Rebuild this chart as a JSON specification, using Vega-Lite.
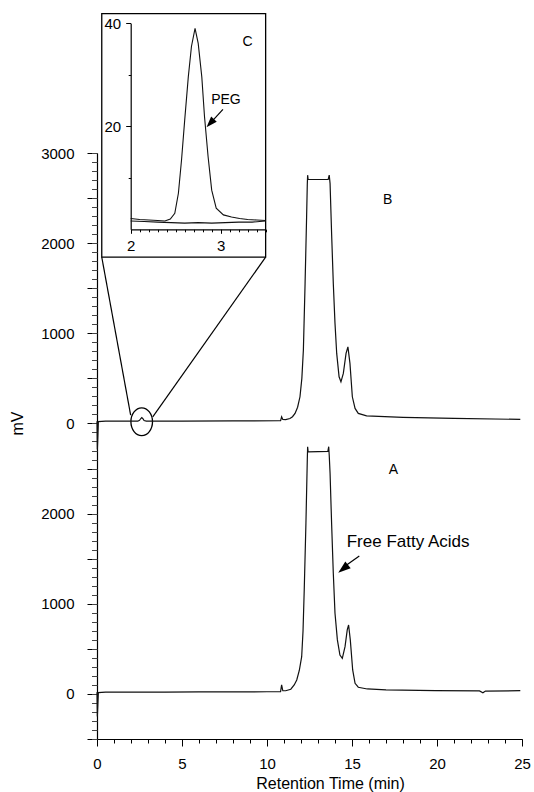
{
  "$schema": "https://vega.github.io/schema/vega-lite/v6.json",
  "width": 425,
  "height": 586,
  "autosize": "none",
  "padding": {"left": 97, "top": 153, "right": 12, "bottom": 53},
  "background": "white",
  "config": {
    "view": {"stroke": null},
    "font": "Liberation Sans",
    "axis": {
      "grid": false,
      "domainColor": "#000",
      "tickColor": "#000",
      "labelColor": "#000",
      "titleColor": "#000",
      "labelFont": "Liberation Sans",
      "titleFont": "Liberation Sans",
      "titleFontWeight": "normal",
      "labelFontSize": 15,
      "labelFlush": false,
      "labelOverlap": false,
      "domainWidth": 1.2,
      "tickWidth": 1
    }
  },
  "datasets": {
    "A": [
      {"t": 0, "mv": 20}, {"t": 0.02, "mv": -250}, {"t": 0.05, "mv": -120}, {"t": 0.08, "mv": 15},
      {"t": 0.5, "mv": 20}, {"t": 2, "mv": 20}, {"t": 4, "mv": 20}, {"t": 6, "mv": 22}, {"t": 8, "mv": 22},
      {"t": 10, "mv": 24}, {"t": 10.8, "mv": 25}, {"t": 10.86, "mv": 100}, {"t": 10.93, "mv": 35},
      {"t": 11.1, "mv": 35}, {"t": 11.4, "mv": 52}, {"t": 11.6, "mv": 100}, {"t": 11.75, "mv": 155},
      {"t": 11.9, "mv": 260}, {"t": 12.04, "mv": 413}, {"t": 12.12, "mv": 700}, {"t": 12.19, "mv": 1153},
      {"t": 12.29, "mv": 1892}, {"t": 12.37, "mv": 2594}, {"t": 12.39, "mv": 2742}, {"t": 12.42, "mv": 2686},
      {"t": 13.58, "mv": 2690}, {"t": 13.63, "mv": 2742}, {"t": 13.66, "mv": 2650}, {"t": 13.71, "mv": 2447},
      {"t": 13.8, "mv": 1892}, {"t": 13.9, "mv": 1338}, {"t": 14.0, "mv": 895}, {"t": 14.14, "mv": 599},
      {"t": 14.29, "mv": 432}, {"t": 14.43, "mv": 395}, {"t": 14.59, "mv": 524}, {"t": 14.72, "mv": 710},
      {"t": 14.8, "mv": 765}, {"t": 14.9, "mv": 599}, {"t": 15.04, "mv": 266}, {"t": 15.18, "mv": 118},
      {"t": 15.37, "mv": 74}, {"t": 15.9, "mv": 55}, {"t": 17, "mv": 45}, {"t": 19.9, "mv": 37},
      {"t": 22.5, "mv": 33}, {"t": 22.7, "mv": 12}, {"t": 22.85, "mv": 32}, {"t": 24.9, "mv": 36}
    ],
    "B": [
      {"t": 0, "mv": 25}, {"t": 0.02, "mv": -290}, {"t": 0.05, "mv": -150}, {"t": 0.08, "mv": 20},
      {"t": 0.5, "mv": 25}, {"t": 2.4, "mv": 25}, {"t": 2.5, "mv": 35}, {"t": 2.58, "mv": 55},
      {"t": 2.63, "mv": 66}, {"t": 2.69, "mv": 55}, {"t": 2.77, "mv": 33}, {"t": 2.9, "mv": 26},
      {"t": 5, "mv": 27}, {"t": 8, "mv": 28}, {"t": 10.7, "mv": 30}, {"t": 10.8, "mv": 32},
      {"t": 10.86, "mv": 74}, {"t": 10.93, "mv": 45}, {"t": 11.1, "mv": 42}, {"t": 11.35, "mv": 55},
      {"t": 11.5, "mv": 75}, {"t": 11.65, "mv": 112}, {"t": 11.8, "mv": 180}, {"t": 11.94, "mv": 296},
      {"t": 12.05, "mv": 500}, {"t": 12.14, "mv": 814}, {"t": 12.24, "mv": 1553}, {"t": 12.33, "mv": 2292},
      {"t": 12.37, "mv": 2650}, {"t": 12.39, "mv": 2754}, {"t": 12.42, "mv": 2706}, {"t": 13.6, "mv": 2706},
      {"t": 13.66, "mv": 2754}, {"t": 13.69, "mv": 2700}, {"t": 13.71, "mv": 2662}, {"t": 13.8, "mv": 2108},
      {"t": 13.9, "mv": 1553}, {"t": 14.0, "mv": 1110}, {"t": 14.1, "mv": 777}, {"t": 14.24, "mv": 518},
      {"t": 14.35, "mv": 462}, {"t": 14.49, "mv": 555}, {"t": 14.65, "mv": 777}, {"t": 14.76, "mv": 850},
      {"t": 14.88, "mv": 666}, {"t": 15.02, "mv": 296}, {"t": 15.18, "mv": 167}, {"t": 15.37, "mv": 112},
      {"t": 15.86, "mv": 85}, {"t": 18, "mv": 68}, {"t": 21, "mv": 56}, {"t": 24.9, "mv": 45}
    ],
    "inset": [
      {"trace": "B", "t": 2.0, "mv": 2.1}, {"trace": "B", "t": 2.05, "mv": 2.0}, {"trace": "B", "t": 2.1, "mv": 1.9},
      {"trace": "B", "t": 2.2, "mv": 1.8}, {"trace": "B", "t": 2.3, "mv": 1.7}, {"trace": "B", "t": 2.38, "mv": 1.6},
      {"trace": "B", "t": 2.44, "mv": 2.0}, {"trace": "B", "t": 2.49, "mv": 3.1}, {"trace": "B", "t": 2.53, "mv": 7.0},
      {"trace": "B", "t": 2.565, "mv": 13.5}, {"trace": "B", "t": 2.6, "mv": 21.2}, {"trace": "B", "t": 2.64, "mv": 29.6},
      {"trace": "B", "t": 2.675, "mv": 35.5}, {"trace": "B", "t": 2.715, "mv": 39.0}, {"trace": "B", "t": 2.75, "mv": 36.1},
      {"trace": "B", "t": 2.79, "mv": 29.6}, {"trace": "B", "t": 2.82, "mv": 21.9}, {"trace": "B", "t": 2.86, "mv": 14.1},
      {"trace": "B", "t": 2.9, "mv": 7.6}, {"trace": "B", "t": 2.95, "mv": 4.1}, {"trace": "B", "t": 3.03, "mv": 2.8},
      {"trace": "B", "t": 3.12, "mv": 2.4}, {"trace": "B", "t": 3.21, "mv": 2.1}, {"trace": "B", "t": 3.3, "mv": 1.9},
      {"trace": "B", "t": 3.4, "mv": 1.8}, {"trace": "B", "t": 3.5, "mv": 1.7},
      {"trace": "A", "t": 2.0, "mv": 1.6}, {"trace": "A", "t": 2.15, "mv": 1.5}, {"trace": "A", "t": 2.3, "mv": 1.4},
      {"trace": "A", "t": 2.45, "mv": 1.3}, {"trace": "A", "t": 2.6, "mv": 1.2}, {"trace": "A", "t": 2.75, "mv": 1.3},
      {"trace": "A", "t": 2.9, "mv": 1.2}, {"trace": "A", "t": 3.05, "mv": 1.3}, {"trace": "A", "t": 3.2, "mv": 1.4},
      {"trace": "A", "t": 3.35, "mv": 1.4}, {"trace": "A", "t": 3.5, "mv": 1.6}
    ]
  },
  "layer": [
    {
      "layer": [
        {
          "data": {"name": "A"},
          "mark": {"type": "line", "color": "#111", "strokeWidth": 1.2},
          "encoding": {
            "x": {
              "field": "t", "type": "quantitative",
              "scale": {"domain": [0, 25], "nice": false, "zero": false},
              "axis": {
                "orient": "bottom",
                "values": [0, 5, 10, 15, 20, 25],
                "tickSize": 7,
                "labelPadding": 10,
                "labelFontSize": 15,
                "title": "Retention Time (min)",
                "titleFontSize": 16,
                "titleX": 233,
                "titleY": 49,
                "titleBaseline": "alphabetic",
                "titleAlign": "center"
              }
            },
            "y": {
              "field": "mv", "type": "quantitative",
              "scale": {"domain": [-500, 6000], "nice": false, "zero": false},
              "axis": {
                "orient": "left",
                "values": [-500, 0, 500, 1000, 1500, 2000, 2500, 3000, 3500, 4000, 4500, 5000, 5500, 6000],
                "tickSize": 10,
                "labelExpr": "datum.value >= 0 && datum.value % 1000 === 0 ? (datum.value >= 3000 ? format(datum.value - 3000, 'd') : format(datum.value, 'd')) : ''",
                "labelPadding": 13,
                "labelFontSize": 15,
                "title": "mV",
                "titleFontSize": 16,
                "titleX": -72,
                "titleY": 270,
                "titleAngle": -90,
                "titleBaseline": "bottom",
                "titleAlign": "center"
              }
            }
          }
        },
        {
          "data": {"values": [{"t": 0.28, "t2": 9.92, "v": 4845, "v2": 7547}]},
          "mark": {"type": "rect", "filled": false, "color": "#000", "strokeWidth": 1.3},
          "encoding": {
            "x": {
              "field": "t", "type": "quantitative",
              "scale": {"domain": [0, 25], "nice": false, "zero": false},
              "axis": {
                "orient": "bottom",
                "values": [0,1,2,3,4,5,6,7,8,9,10,11,12,13,14,15,16,17,18,19,20,21,22,23,24,25],
                "tickSize": 4,
                "labels": false,
                "domain": false,
                "title": null
              }
            },
            "x2": {"field": "t2"},
            "y": {
              "field": "v", "type": "quantitative",
              "scale": {"domain": [-500, 6000], "nice": false, "zero": false},
              "axis": {
                "orient": "left",
                "values": [-500,-400,-300,-200,-100,0,100,200,300,400,500,600,700,800,900,1000,1100,1200,1300,1400,1500,1600,1700,1800,1900,2000,2100,2200,2300,2400,2500,2600,2700,2800,2900,3000,3100,3200,3300,3400,3500,3600,3700,3800,3900,4000,4100,4200,4300,4400,4500,4600,4700,4800,4900,5000,5100,5200,5300,5400,5500,5600,5700,5800,5900,6000],
                "tickSize": 5.5,
                "tickColor": "#444",
                "labels": false,
                "domain": false,
                "title": null
              }
            },
            "y2": {"field": "v2"}
          }
        },
        {
          "data": {"values": [
            {"t": 0.28, "v": 4845, "t2": 1.98, "v2": 3093},
            {"t": 9.92, "v": 4845, "t2": 3.28, "v2": 3074},
            {"t": 15.43, "v": 1530, "t2": 14.6, "v2": 1420}
          ]},
          "mark": {"type": "rule", "color": "#000", "strokeWidth": 1.2},
          "encoding": {
            "x": {"field": "t", "type": "quantitative", "axis": null},
            "x2": {"field": "t2"},
            "y": {"field": "v", "type": "quantitative", "axis": null},
            "y2": {"field": "v2"}
          }
        },
        {
          "data": {"values": [{"t": 2.63, "v": 3019}]},
          "mark": {"type": "point", "shape": "M0.78,0 C0.78,0.5523 0.4308,1 0,1 C-0.4308,1 -0.78,0.5523 -0.78,0 C-0.78,-0.5523 -0.4308,-1 0,-1 C0.4308,-1 0.78,-0.5523 0.78,0 Z", "filled": false, "color": "#000", "strokeWidth": 1.3, "size": 767, "opacity": 1},
          "encoding": {
            "x": {"field": "t", "type": "quantitative", "axis": null},
            "y": {"field": "v", "type": "quantitative", "axis": null}
          }
        },
        {
          "data": {"values": [{"t": 14.55, "v": 1399}]},
          "mark": {"type": "point", "shape": "M0,-1L0.55,0.6L-0.55,0.6Z", "filled": true, "color": "#000", "size": 244, "angle": 231.5, "opacity": 1},
          "encoding": {
            "x": {"field": "t", "type": "quantitative", "axis": null},
            "y": {"field": "v", "type": "quantitative", "axis": null}
          }
        },
        {
          "data": {"values": [
            {"label": "B", "t": 17.1, "v": 5477},
            {"label": "A", "t": 17.43, "v": 2483}
          ]},
          "mark": {"type": "text", "font": "Liberation Sans", "fontSize": 14, "color": "#000", "align": "center", "baseline": "middle"},
          "encoding": {
            "x": {"field": "t", "type": "quantitative", "axis": null},
            "y": {"field": "v", "type": "quantitative", "axis": null},
            "text": {"field": "label"}
          }
        },
        {
          "data": {"values": [{"label": "Free Fatty Acids", "t": 14.69, "v": 1680}]},
          "mark": {"type": "text", "font": "Liberation Sans", "fontSize": 17, "color": "#000", "align": "left", "baseline": "middle"},
          "encoding": {
            "x": {"field": "t", "type": "quantitative", "axis": null},
            "y": {"field": "v", "type": "quantitative", "axis": null},
            "text": {"field": "label"}
          }
        }
      ],
      "resolve": {"axis": {"x": "independent", "y": "independent"}}
    },
    {
      "data": {"name": "B"},
      "mark": {"type": "line", "color": "#111", "strokeWidth": 1.2},
      "encoding": {
        "x": {"field": "t", "type": "quantitative", "scale": {"domain": [0, 25], "nice": false, "zero": false}, "axis": null},
        "y": {"field": "mv", "type": "quantitative", "scale": {"domain": [-3500, 3000], "nice": false, "zero": false}, "axis": null}
      }
    },
    {
      "layer": [
        {
          "data": {"name": "inset"},
          "mark": {"type": "line", "color": "#111", "strokeWidth": 1.1},
          "encoding": {
            "x": {
              "field": "t", "type": "quantitative",
              "scale": {"domain": [2, 3.5], "range": [33.7, 168.7], "nice": false, "zero": false},
              "axis": {
                "orient": "bottom",
                "offset": -509.7,
                "values": [2, 3],
                "tickSize": 4,
                "labelPadding": 5,
                "labelFontSize": 15,
                "title": null
              }
            },
            "y": {
              "field": "mv", "type": "quantitative",
              "scale": {"domain": [0, 40], "range": [76.3, -129.7], "nice": false, "zero": false},
              "axis": {
                "orient": "left",
                "offset": -33.7,
                "values": [20, 40],
                "tickSize": 5,
                "labelPadding": 5,
                "labelFontSize": 15,
                "title": null
              }
            },
            "detail": {"field": "trace", "type": "nominal"}
          }
        },
        {
          "data": {"values": [{"label": "C", "t": 3.299, "v": 36.4}, {"label": "PEG", "t": 3.058, "v": 25.1}]},
          "mark": {"type": "text", "font": "Liberation Sans", "fontSize": 14, "color": "#000", "align": "center", "baseline": "middle"},
          "encoding": {
            "x": {
              "field": "t", "type": "quantitative",
              "scale": {"domain": [2, 3.5], "range": [33.7, 168.7], "nice": false, "zero": false},
              "axis": {
                "orient": "bottom",
                "offset": -509.7,
                "values": [2, 2.1, 2.2, 2.3, 2.4, 2.5, 2.6, 2.7, 2.8, 2.9, 3, 3.1, 3.2, 3.3, 3.4, 3.5],
                "tickSize": 2.5,
                "labels": false,
                "domain": false,
                "title": null
              }
            },
            "y": {
              "field": "v", "type": "quantitative",
              "scale": {"domain": [0, 40], "range": [76.3, -129.7], "nice": false, "zero": false},
              "axis": {
                "orient": "left",
                "offset": -33.7,
                "values": [10, 30],
                "tickSize": 2.5,
                "labels": false,
                "domain": false,
                "title": null
              }
            },
            "text": {"field": "label"}
          }
        },
        {
          "data": {"values": [{"t": 3.025, "v": 23.3, "t2": 2.9, "v2": 20.9}]},
          "mark": {"type": "rule", "color": "#000", "strokeWidth": 1.2},
          "encoding": {
            "x": {"field": "t", "type": "quantitative", "axis": null},
            "x2": {"field": "t2"},
            "y": {"field": "v", "type": "quantitative", "axis": null},
            "y2": {"field": "v2"}
          }
        },
        {
          "data": {"values": [{"t": 2.894, "v": 20.8}]},
          "mark": {"type": "point", "shape": "M0,-1L0.55,0.6L-0.55,0.6Z", "filled": true, "color": "#000", "size": 189, "angle": 222.7, "opacity": 1},
          "encoding": {
            "x": {"field": "t", "type": "quantitative", "axis": null},
            "y": {"field": "v", "type": "quantitative", "axis": null}
          }
        }
      ],
      "resolve": {"axis": {"x": "independent", "y": "independent"}}
    }
  ],
  "resolve": {
    "scale": {"x": "independent", "y": "independent"},
    "axis": {"x": "independent", "y": "independent"}
  }
}
